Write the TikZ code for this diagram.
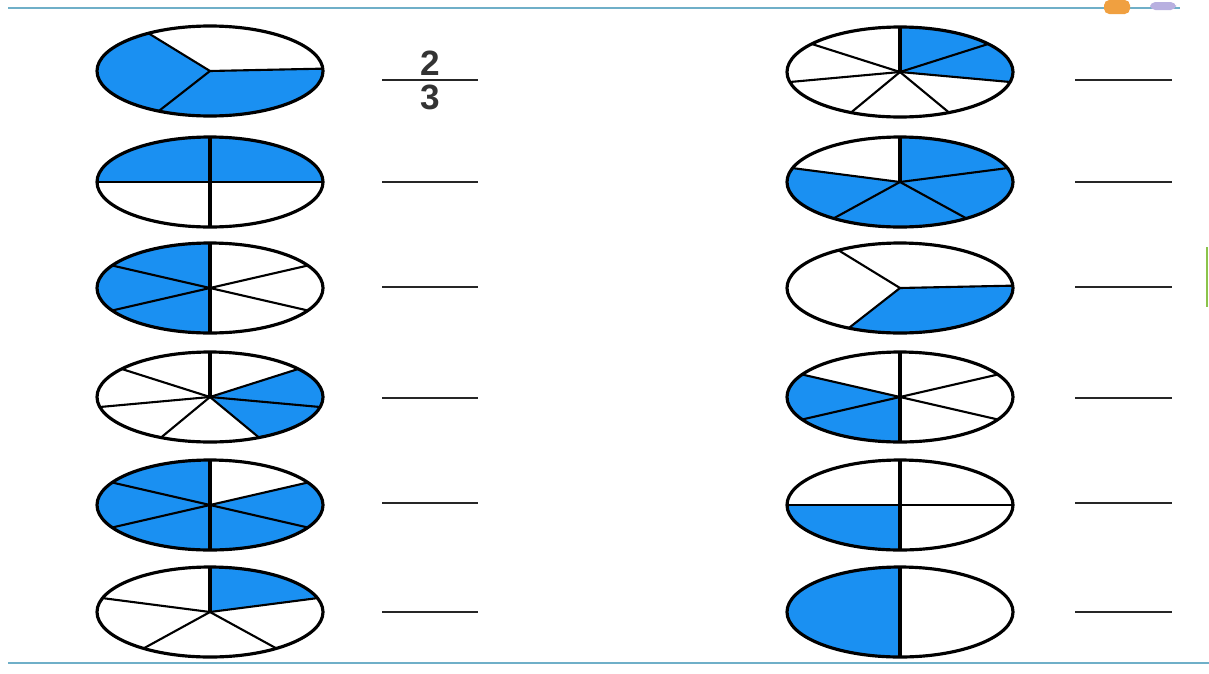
\documentclass[tikz,border=0pt]{standalone}
\usepackage{fontspec}
\setmainfont{Liberation Sans}
\usepackage{xcolor}
\definecolor{cBlue}{HTML}{1A90F2}
\definecolor{cRule}{HTML}{6FAFC8}
\definecolor{cGreen}{HTML}{8BC34A}
\definecolor{cOrange}{HTML}{F0A040}
\definecolor{cLilac}{HTML}{B8B0E0}

% #1 centre, #2 parts, #3 start angle, #4 shaded parts
\newcommand{\fracpie}[4]{%
  \begin{scope}[shift={#1}, xscale=113, yscale=-45]
    \foreach \k in {#4}
      \fill[cBlue] (0,0) -- ({#3+(\k-1)*360/#2}:1)
        arc[start angle={#3+(\k-1)*360/#2}, delta angle={360/#2}, radius=1] -- cycle;
    \foreach \k in {1,...,#2} {
      \pgfmathsetmacro\ang{#3+(\k-1)*360/#2}
      \pgfmathtruncatemacro\isvert{abs(mod(\ang,180)-90)<0.5}
      \ifnum\isvert=1
        \draw[vspoke] (0,0) -- (\ang:1);
      \else
        \draw[spoke] (0,0) -- (\ang:1);
      \fi
    }
    \draw[rim] (0,0) circle[radius=1];
  \end{scope}}

\begin{document}
\begin{tikzpicture}[x=0.02cm, y=-0.02cm,
  rim/.style={line width=1.8pt, black},
  spoke/.style={line width=1.2pt, black},
  vspoke/.style={line width=2.3pt, black},
  blank/.style={line width=1.2pt, black!85},
  digit/.style={font=\fontsize{20}{20}\selectfont\bfseries, text=black!80, inner sep=0pt}
]
  \useasboundingbox (0,0) rectangle (1209,673);

  % frame rules
  \draw[cRule, line width=1.2pt] (8,8) -- (1180,8);
  \draw[cRule, line width=1.2pt] (8,663) -- (1209,663);
  \fill[cOrange, rounded corners=3pt] (1104,0) rectangle (1130,14);
  \fill[cLilac, rounded corners=3pt] (1150,2) rectangle (1176,10);
  \draw[cGreen, line width=1.1pt] (1207,247) -- (1207,307);

  % left column
  \fracpie{(210,71)}{3}{3}{2,3}
  \fracpie{(210,182)}{4}{0}{1,2}
  \fracpie{(210,288)}{6}{30}{2,3,4}
  \fracpie{(210,397)}{7}{90}{5,6}
  \fracpie{(210,505)}{6}{30}{2,3,4,5,6}
  \fracpie{(210,612)}{5}{18}{1}

  % right column
  \fracpie{(900,72)}{7}{90}{6,7}
  \fracpie{(900,182)}{5}{18}{1,3,4,5}
  \fracpie{(900,288)}{3}{3}{3}
  \fracpie{(900,397)}{6}{30}{3,4}
  \fracpie{(900,505)}{4}{0}{3}
  \fracpie{(900,612)}{2}{90}{1}

  % answer blanks
  \foreach \y in {80,182,287,398,503,612} {
    \draw[blank] (382,\y) -- (478,\y);
    \draw[blank] (1075,\y) -- (1172,\y);
  }

  % worked example
  \node[digit] (num) at (430,63) {2};
  \node[digit] (den) at (430,97) {3};
\end{tikzpicture}
\end{document}
